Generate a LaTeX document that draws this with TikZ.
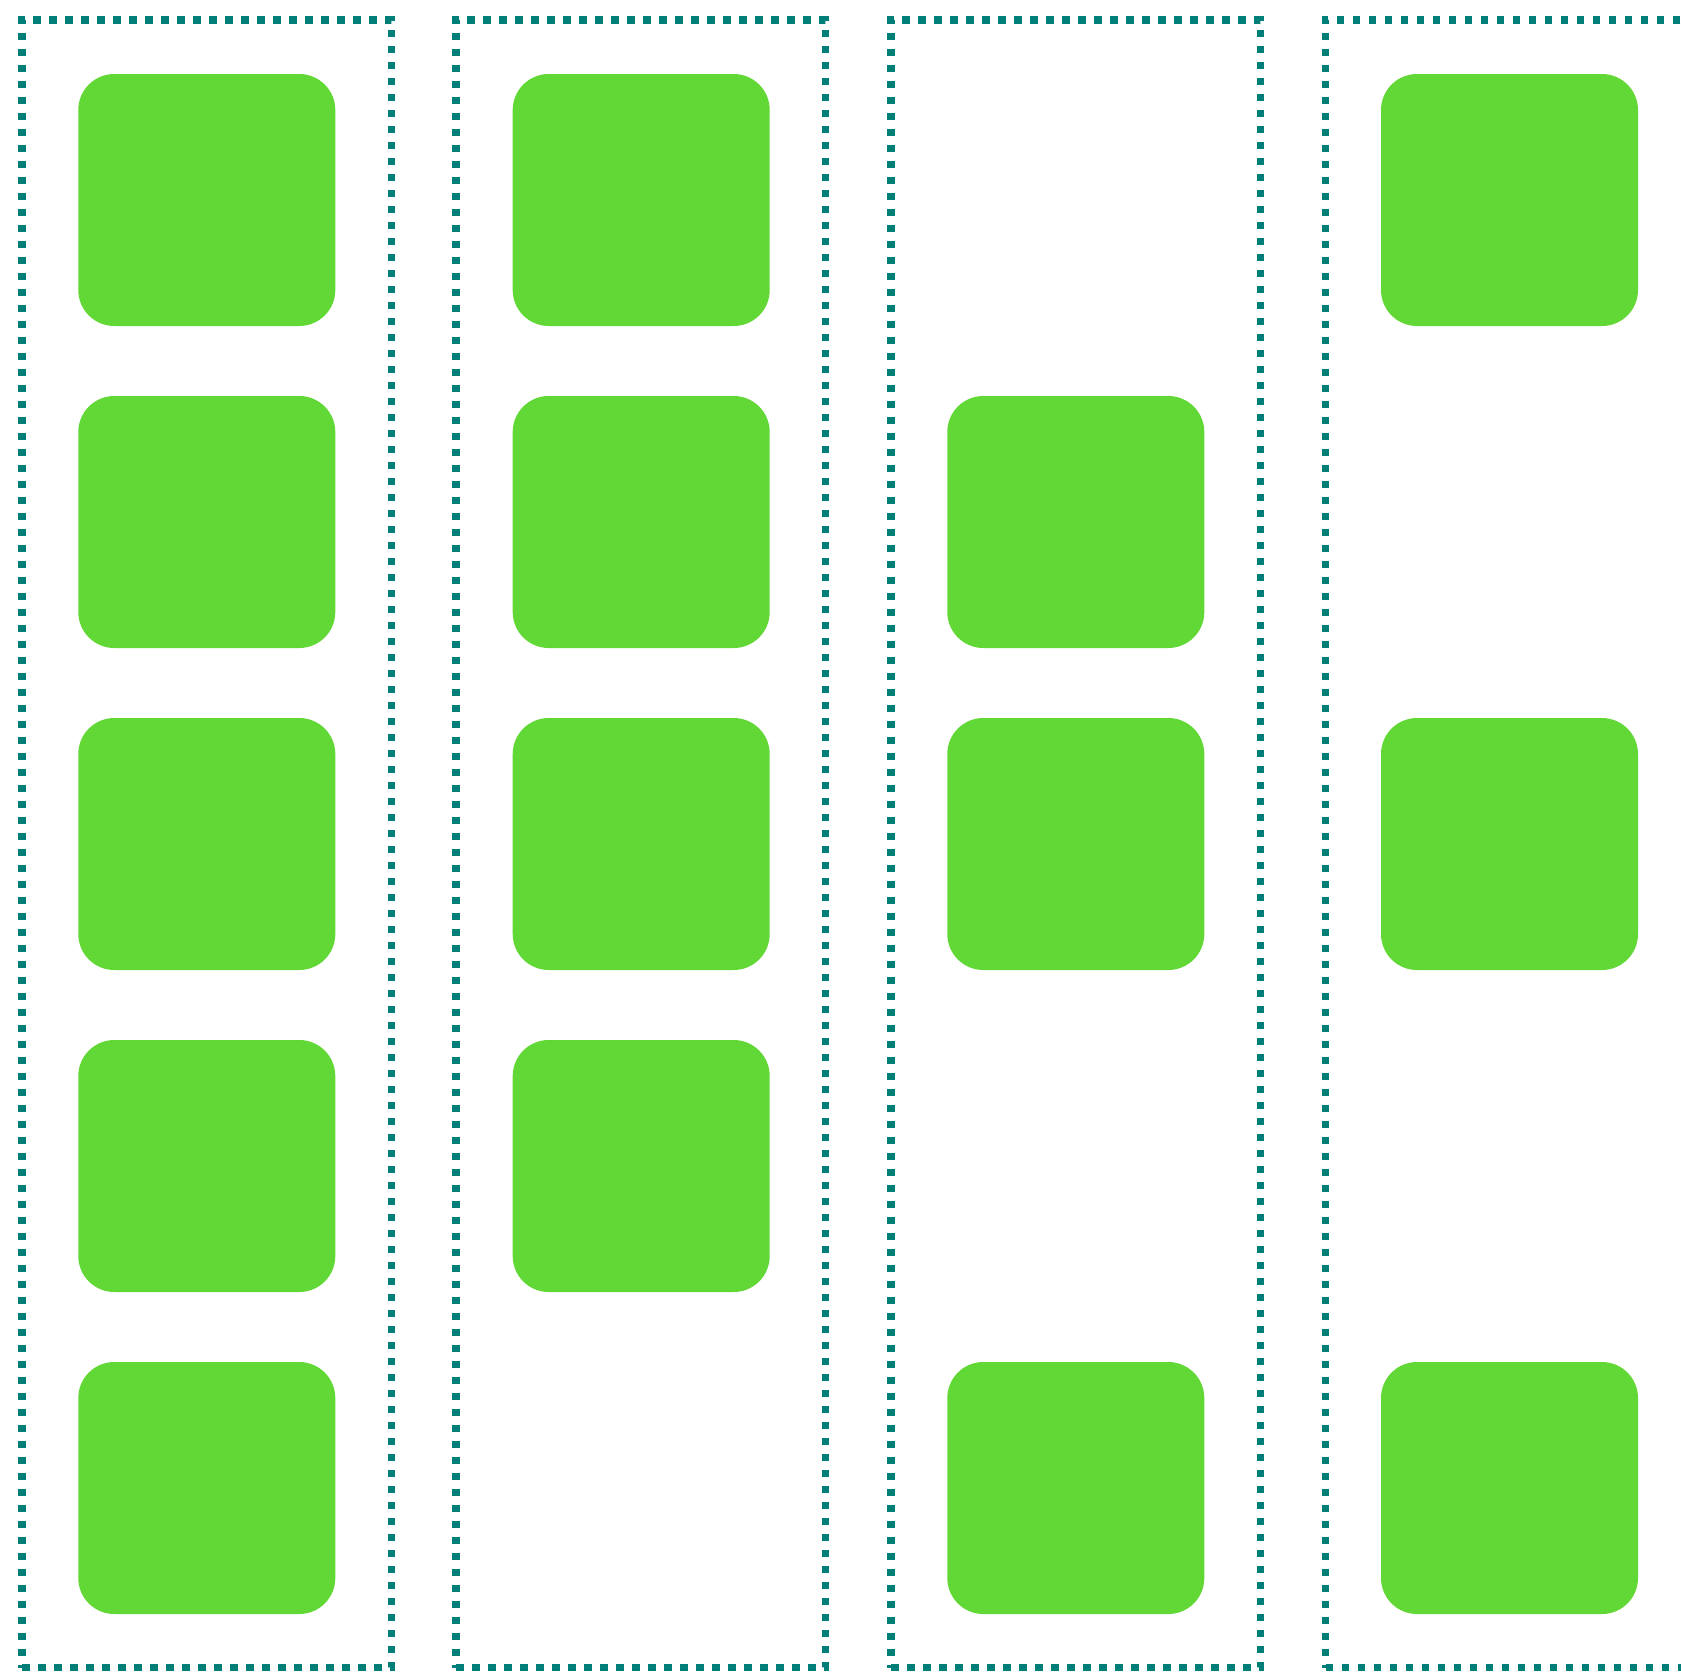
\documentclass[tikz,border=0pt]{standalone}
\begin{document}
\definecolor{frameteal}{RGB}{0,126,120}
\definecolor{boxgreen}{RGB}{98,216,54}
\begin{tikzpicture}[x=1pt,y=-1pt,
  colframe/.style={draw=frameteal, line width=7.7pt, dash pattern=on 7.5pt off 8.5pt,
    minimum width=369.5pt, minimum height=1647.8pt, inner sep=0pt, outer sep=0pt, fill=none},
  greenbox/.style={fill=boxgreen, draw=none, rounded corners=36pt,
    minimum width=257pt, minimum height=252pt, inner sep=0pt, outer sep=0pt}]
\useasboundingbox (0,0) rectangle (1681,1671);
\clip (0,0) rectangle (1681,1671);
% column frames
\node[colframe] (f1) at (206.75,843.6) {};
\node[colframe] (f2) at (640.75,843.6) {};
\node[colframe] (f3) at (1075.75,843.6) {};
\node[colframe] (f4) at (1510.25,843.6) {};
% column 1
\node[greenbox] (a1) at (206.8,200) {};
\node[greenbox] (a2) at (206.8,522) {};
\node[greenbox] (a3) at (206.8,844) {};
\node[greenbox] (a4) at (206.8,1166) {};
\node[greenbox] (a5) at (206.8,1488) {};
% column 2
\node[greenbox] (b1) at (641.2,200) {};
\node[greenbox] (b2) at (641.2,522) {};
\node[greenbox] (b3) at (641.2,844) {};
\node[greenbox] (b4) at (641.2,1166) {};
% column 3
\node[greenbox] (c2) at (1075.8,522) {};
\node[greenbox] (c3) at (1075.8,844) {};
\node[greenbox] (c5) at (1075.8,1488) {};
% column 4
\node[greenbox] (d1) at (1509.5,200) {};
\node[greenbox] (d3) at (1509.5,844) {};
\node[greenbox] (d5) at (1509.5,1488) {};
\end{tikzpicture}
\end{document}
